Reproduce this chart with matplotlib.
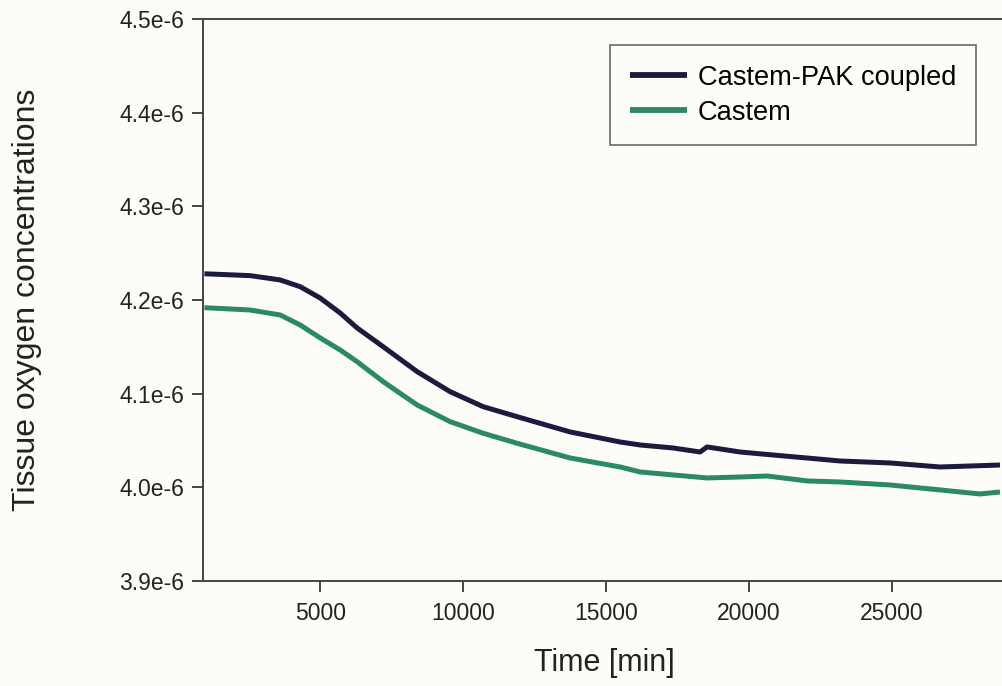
import matplotlib
matplotlib.use('Agg')
import matplotlib.pyplot as plt

plt.rcParams['font.family'] = ['Liberation Sans', 'DejaVu Sans']

# time [min] and concentration (x1e-6)
t_coupled = [950, 2551, 3601, 4300, 5000, 5700, 6294, 7204, 8393, 9547, 10702, 11891,
             13745, 15494, 16194, 17348, 18292, 18537, 19692, 20846, 22035, 23190,
             24939, 26688, 28786]
c_coupled = [4.2280, 4.2260, 4.2214, 4.2142, 4.2021, 4.1861, 4.1701, 4.1501, 4.1235,
             4.1021, 4.0861, 4.0754, 4.0591, 4.0484, 4.0452, 4.0420, 4.0377, 4.0431,
             4.0377, 4.0345, 4.0313, 4.0281, 4.0260, 4.0217, 4.0238]

t_castem = [950, 2551, 3601, 4300, 5000, 5700, 6294, 7204, 8393, 9547, 10702, 11891,
            13745, 15494, 16194, 17348, 18537, 19692, 20636, 22035, 23190, 24939,
            26688, 28086, 28786]
c_castem = [4.1918, 4.1893, 4.1840, 4.1733, 4.1595, 4.1466, 4.1341, 4.1128, 4.0879,
            4.0701, 4.0577, 4.0470, 4.0313, 4.0217, 4.0164, 4.0132, 4.0100, 4.0110,
            4.0121, 4.0068, 4.0057, 4.0025, 3.9972, 3.9929, 3.9950]

yticks = [3.9e-6, 4.0e-6, 4.1e-6, 4.2e-6, 4.3e-6, 4.4e-6, 4.5e-6]
ytick_labels = ['3.9e-6', '4.0e-6', '4.1e-6', '4.2e-6', '4.3e-6', '4.4e-6', '4.5e-6']
xticks = [5000, 10000, 15000, 20000, 25000]

bg = '#fdfcf9'
fig = plt.figure(figsize=(10.03, 6.86), dpi=100, facecolor=bg)
ax = fig.add_axes([0.2024, 0.1531, 0.8292, 0.8192], facecolor=bg)

ax.plot(t_coupled, [v * 1e-6 for v in c_coupled], color='#1c1a3e', lw=3.6,
        label='Castem-PAK coupled', solid_capstyle='butt')
ax.plot(t_castem, [v * 1e-6 for v in c_castem], color='#2a8a62', lw=3.6,
        label='Castem', solid_capstyle='butt')

ax.set_xlim(900, 30000)
ax.set_ylim(3.9e-6, 4.5e-6)
ax.set_yticks(yticks)
ax.set_yticklabels(ytick_labels)
ax.set_xticks(xticks)
ax.set_xticklabels([str(x) for x in xticks])

for s in ['left', 'bottom', 'top']:
    ax.spines[s].set_color('#444444')
    ax.spines[s].set_linewidth(1.4)
ax.spines['right'].set_visible(False)
ax.tick_params(direction='out', length=8, width=1.4, color='#444444',
               labelsize=16.5, labelcolor='#222222')
ax.tick_params(axis='x', pad=7)
ax.tick_params(axis='y', pad=5.5)

ax.set_xlabel('Time [min]', fontsize=22, color='#222222', va='center')
ax.xaxis.set_label_coords(0.482, -0.146)
ax.set_ylabel('Tissue oxygen concentrations', fontsize=23, color='#222222', va='center')
ax.yaxis.set_label_coords(-0.212, 0.5)

leg = ax.legend(loc='upper left', bbox_to_anchor=(0.4894, 0.9537), borderaxespad=0,
                fontsize=19.6, frameon=True, fancybox=False, handlelength=2.1,
                handletextpad=0.4, borderpad=0.72, labelspacing=0.33)
leg.get_frame().set_edgecolor('#444444')
leg.get_frame().set_linewidth(1.2)
leg.get_frame().set_facecolor(bg)
for h in leg.get_lines():
    h.set_linewidth(4.2)

fig.savefig('out.png', dpi=100, facecolor=bg)
